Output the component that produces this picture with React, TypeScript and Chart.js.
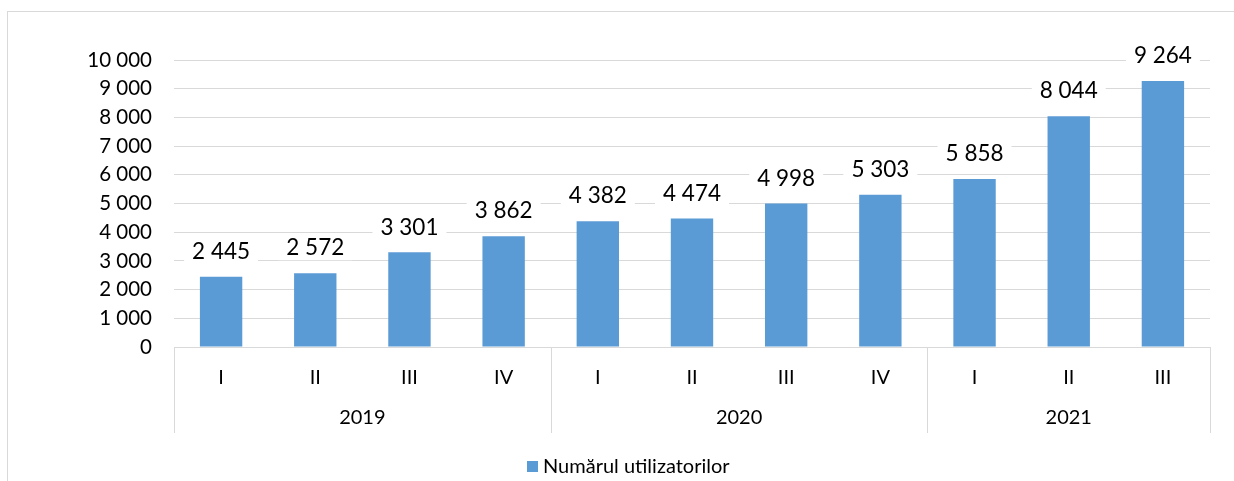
import React, { useEffect, useRef } from "react";
import { Chart, registerables } from "chart.js";

Chart.register(...registerables);

const quarters = ["I", "II", "III", "IV", "I", "II", "III", "IV", "I", "II", "III"];
const years = ["2019", "2020", "2021"];
const quartersPerYear = [4, 4, 3];
const users = [2445, 2572, 3301, 3862, 4382, 4474, 4998, 5303, 5858, 8044, 9264];
const seriesName = "Numărul utilizatorilor";

const FONT = "Lato, 'Open Sans', sans-serif";
const BAR = "#5B9BD5";
const GRID = "#d9d9d9";
const TEXT = "#000000";

const fmt = (v: number) => String(v).replace(/\B(?=(\d{3})+(?!\d))/g, " ");

const decorPlugin = {
  id: "decor",
  beforeDraw(chart: any) {
    const ctx = chart.ctx;
    ctx.save();
    ctx.strokeStyle = GRID;
    ctx.lineWidth = 1;
    ctx.strokeRect(7.5, 11.5, chart.width + 20, chart.height + 20);
    ctx.restore();
  },
  afterDatasetsDraw(chart: any) {
    const ctx = chart.ctx;
    const meta = chart.getDatasetMeta(0);
    const area = chart.chartArea;
    const xs = chart.scales.x;
    ctx.save();
    // data labels
    ctx.font = `22.5px ${FONT}`;
    ctx.textAlign = "center";
    ctx.textBaseline = "middle";
    meta.data.forEach((el: any, i: number) => {
      const txt = fmt(users[i]);
      const w = ctx.measureText(txt).width;
      const cy = el.y - 25;
      ctx.fillStyle = "#ffffff";
      ctx.fillRect(el.x - w / 2 - 8, cy - 12, w + 16, 24);
      ctx.fillStyle = TEXT;
      ctx.fillText(txt, el.x, cy);
    });
    // category axis
    const half = (xs.getPixelForValue(1) - xs.getPixelForValue(0)) / 2;
    ctx.font = `20px ${FONT}`;
    quarters.forEach((q, i) => {
      ctx.fillStyle = TEXT;
      ctx.fillText(q, xs.getPixelForValue(i), 378);
    });
    ctx.strokeStyle = GRID;
    ctx.lineWidth = 1;
    let start = 0;
    const line = (x: number) => {
      const px = Math.round(x) + 0.5;
      ctx.beginPath();
      ctx.moveTo(px, area.bottom);
      ctx.lineTo(px, 433);
      ctx.stroke();
    };
    line(xs.getPixelForValue(0) - half);
    years.forEach((y, gi) => {
      const end = start + quartersPerYear[gi] - 1;
      const l = xs.getPixelForValue(start) - half;
      const r = xs.getPixelForValue(end) + half;
      ctx.fillStyle = TEXT;
      ctx.fillText(y, (l + r) / 2, 418);
      line(r);
      start = end + 1;
    });
    // legend
    ctx.fillStyle = BAR;
    ctx.fillRect(527, 461, 11, 11);
    ctx.fillStyle = TEXT;
    ctx.textAlign = "left";
    ctx.font = `20px ${FONT}`;
    ctx.fillText(seriesName, 543, 467);
    ctx.restore();
  },
};

export default function App() {
  const ref = useRef<HTMLCanvasElement>(null);
  useEffect(() => {
    if (!ref.current) return;
    const chart = new Chart(ref.current, {
      type: "bar",
      data: {
        labels: quarters,
        datasets: [
          {
            label: seriesName,
            data: users,
            backgroundColor: BAR,
            categoryPercentage: 1,
            barPercentage: 0.45,
          },
        ],
      },
      options: {
        responsive: false,
        animation: false,
        layout: { padding: { top: 60, right: 24, bottom: 134, left: 0 } },
        plugins: { legend: { display: false }, tooltip: { enabled: false } },
        scales: {
          x: { display: false },
          y: {
            min: 0,
            max: 10000,
            afterFit(scale: any) {
              scale.width = 174;
            },
            border: { display: false },
            grid: { color: GRID, lineWidth: 1, drawTicks: false },
            ticks: {
              stepSize: 1000,
              padding: 22,
              color: TEXT,
              font: { family: FONT, size: 20.5 },
              callback: (v: any) => fmt(Number(v)),
            },
          },
        },
      },
      plugins: [decorPlugin],
    });
    return () => chart.destroy();
  }, []);
  return (
    <div style={{ position: "absolute", left: 0, top: 0, width: 1234, height: 481, background: "#fff" }}>
      <canvas ref={ref} width={1234} height={481} style={{ width: 1234, height: 481 }} />
    </div>
  );
}
